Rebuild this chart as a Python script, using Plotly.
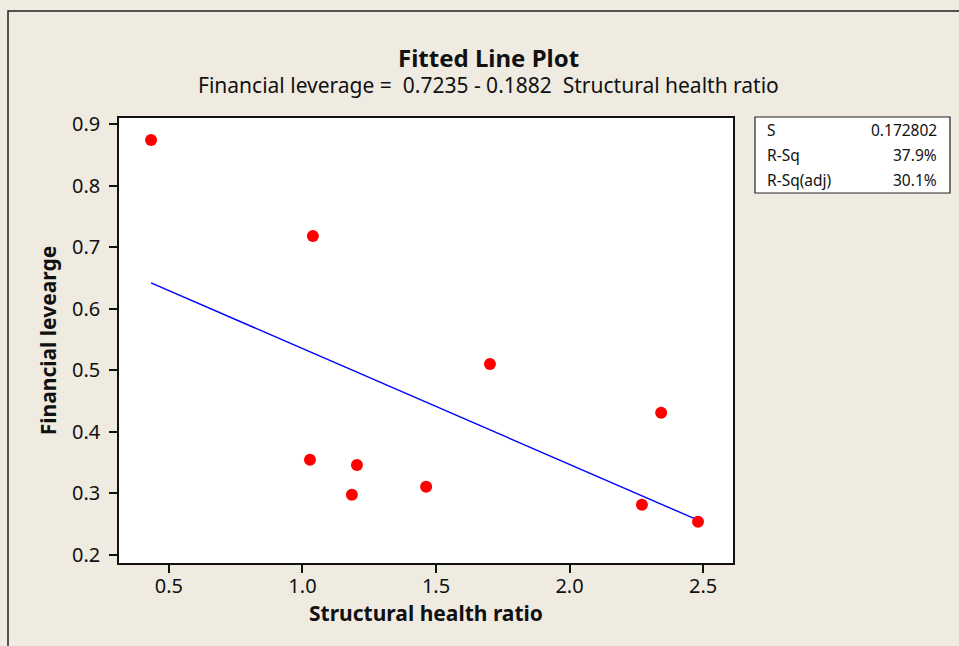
import plotly.graph_objects as go

# Data
structural_health_ratio = [0.433, 1.039, 1.028, 1.204, 1.185, 1.463, 1.702, 2.343, 2.271, 2.481]
financial_leverage = [0.874, 0.718, 0.3545, 0.346, 0.298, 0.311, 0.510, 0.431, 0.2815, 0.254]

intercept = 0.7235
slope = -0.1882

stat_labels = ["S", "R-Sq", "R-Sq(adj)"]
stat_values = ["0.172802", "37.9%", "30.1%"]

x_ticks = [0.5, 1.0, 1.5, 2.0, 2.5]
y_ticks = [0.2, 0.3, 0.4, 0.5, 0.6, 0.7, 0.8, 0.9]

FONT = "Noto Sans"
W, H = 959, 646
L, R, T, B = 119, 733, 118, 563
pw, ph = R - L, B - T

def px(xp):
    return (xp - L) / pw

def py(yp):
    return (B - yp) / ph

xmin, xmax = min(structural_health_ratio), max(structural_health_ratio)
n_line = 20
line_x = [xmin + (xmax - xmin) * i / (n_line - 1) for i in range(n_line)]
line_y = [intercept + slope * v for v in line_x]

fig = go.Figure()
fig.add_trace(go.Scatter(x=line_x, y=line_y, mode="lines",
                         line=dict(color="#0000ff", width=1.4), hoverinfo="skip"))
fig.add_trace(go.Scatter(x=structural_health_ratio, y=financial_leverage, mode="markers",
                         marker=dict(color="#ff0000", size=12, line=dict(width=0))))

shapes = [
    # outer frame
    dict(type="rect", xref="paper", yref="paper", x0=px(8), x1=px(W + 20), y0=py(11), y1=py(H + 20),
         line=dict(color="#222222", width=1.5), fillcolor="rgba(0,0,0,0)", layer="below"),
    # stats box
    dict(type="rect", xref="paper", yref="paper", x0=px(755), x1=px(950), y0=py(117), y1=py(193),
         line=dict(color="#222222", width=1.2), fillcolor="white"),
]

annotations = [
    dict(text="<b>Fitted Line Plot</b>", x=px(488), y=py(57), xref="paper", yref="paper",
         showarrow=False, font=dict(family=FONT, size=24, color="#111111"), xanchor="center", yanchor="middle"),
    dict(text="Financial leverage =  0.7235 - 0.1882  Structural health ratio", x=px(488), y=py(85),
         xref="paper", yref="paper", showarrow=False,
         font=dict(family=FONT, size=21, color="#111111"), xanchor="center", yanchor="middle"),
]
row_y = [130, 155, 180]
for lab, val, yy in zip(stat_labels, stat_values, row_y):
    annotations.append(dict(text=lab, x=px(765), y=py(yy), xref="paper", yref="paper", showarrow=False,
                            xanchor="left", yanchor="middle", font=dict(family=FONT, size=15.5, color="#111111")))
    annotations.append(dict(text=val, x=px(939), y=py(yy), xref="paper", yref="paper", showarrow=False,
                            xanchor="right", yanchor="middle", font=dict(family=FONT, size=15.5, color="#111111")))

fig.update_layout(
    width=W, height=H,
    margin=dict(l=L, r=W - R, t=T, b=H - B, pad=0),
    paper_bgcolor="#EFEBE1",
    plot_bgcolor="white",
    showlegend=False,
    shapes=shapes,
    annotations=annotations,
    font=dict(family=FONT, color="#111111"),
    xaxis=dict(range=[0.313, 2.612], tickvals=x_ticks, ticktext=[f"{v:.1f}" for v in x_ticks],
               showgrid=False, zeroline=False, showline=True, mirror=True,
               linecolor="#111111", linewidth=1.5, ticks="outside", ticklen=8, tickwidth=1.5,
               tickcolor="#111111", tickfont=dict(family=FONT, size=20), ticklabelstandoff=-4,
               title=dict(text="<b>Structural health ratio</b>", font=dict(family=FONT, size=21), standoff=8)),
    yaxis=dict(range=[0.187, 0.9097], tickvals=y_ticks, ticktext=[f"{v:.1f}" for v in y_ticks],
               showgrid=False, zeroline=False, showline=True, mirror=True,
               linecolor="#111111", linewidth=1.5, ticks="outside", ticklen=8, tickwidth=1.5,
               tickcolor="#111111", tickfont=dict(family=FONT, size=20), ticklabelstandoff=5,
               title=dict(text="<b>Financial levearge</b>", font=dict(family=FONT, size=21), standoff=10)),
)

fig.write_html("out.html", config={"displayModeBar": False},
               post_script="document.body.style.margin='0';document.body.style.overflow='hidden';")
